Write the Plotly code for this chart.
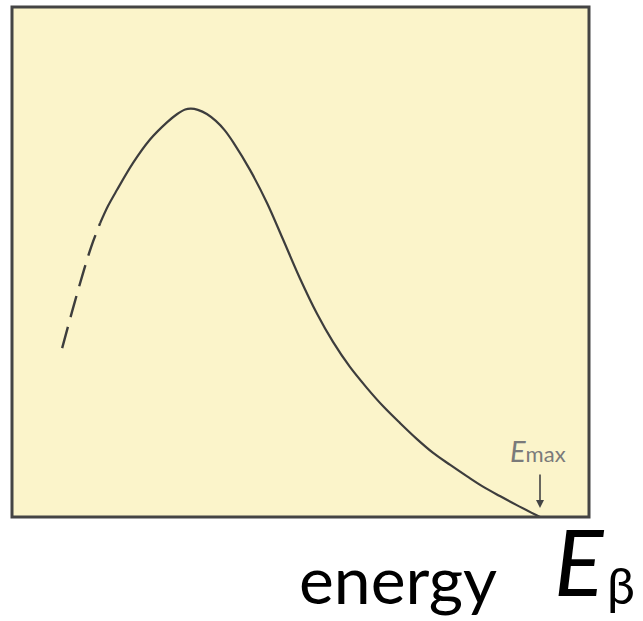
import plotly.graph_objects as go

# Beta-decay electron energy spectrum (energy in units of E_max, intensity normalised to peak)
energy_low = [0.095, 0.114, 0.133, 0.150, 0.167]
intensity_low = [0.412, 0.502, 0.588, 0.659, 0.717]

energy = [0.167, 0.182, 0.199, 0.229, 0.261, 0.294, 0.313, 0.328, 0.339, 0.352,
          0.369, 0.386, 0.403, 0.420, 0.451, 0.483, 0.513, 0.545, 0.578, 0.608,
          0.640, 0.672, 0.703, 0.735, 0.767, 0.797, 0.830, 0.862, 0.892, 0.924,
          0.956, 1.000]
intensity = [0.717, 0.759, 0.798, 0.863, 0.920, 0.963, 0.983, 0.994, 0.996, 0.993,
             0.983, 0.966, 0.943, 0.912, 0.846, 0.766, 0.678, 0.583, 0.495, 0.427,
             0.366, 0.315, 0.270, 0.229, 0.190, 0.157, 0.127, 0.099, 0.074, 0.051,
             0.029, 0.000]

e_max = 1.0

W, H = 643, 621
L, R, T, B = 12, 54, 7, 104
plot_w = W - L - R
plot_h = H - T - B
x_scale = 528.0   # pixels per unit energy
y_scale = 410.0   # pixels per unit intensity

line_color = "#3d3d3d"
fig = go.Figure()
fig.add_trace(go.Scatter(x=energy_low, y=intensity_low, mode="lines",
                         line=dict(color=line_color, width=2.4, dash="22px,10px", shape="spline"),
                         hoverinfo="skip"))
fig.add_trace(go.Scatter(x=energy, y=intensity, mode="lines",
                         line=dict(color=line_color, width=2.2, shape="spline", smoothing=1.0),
                         hoverinfo="skip"))

# frame
fig.add_shape(type="rect", xref="paper", yref="paper", x0=0, y0=0, x1=1, y1=1,
              line=dict(color="#444444", width=3), fillcolor="rgba(0,0,0,0)", layer="above")

# E_max marker
fig.add_annotation(x=e_max, y=0.022, xref="x", yref="y", text="", showarrow=True,
                   ax=0, ay=-35, arrowhead=2, arrowsize=1, arrowwidth=1.6,
                   arrowcolor="#444444")
fig.add_annotation(x=e_max - 0.004, y=0.162, xref="x", yref="y",
                   text="<i>E</i><span style='font-size:22px'>max</span>",
                   showarrow=False, xanchor="center", yanchor="middle",
                   font=dict(family="Lato, sans-serif", size=29, color="#7a7a7a"))

# axis title: "energy  Eβ"
def px_x(p):
    return (p - L) / plot_w

def px_y(p):
    return -(p - (T + plot_h)) / plot_h

fig.add_annotation(x=px_x(297), y=px_y(578), xref="paper", yref="paper",
                   text="energy", showarrow=False, xanchor="left", yanchor="middle",
                   font=dict(family="Lato, sans-serif", size=66, color="#000000"))
fig.add_annotation(x=px_x(553), y=px_y(560), xref="paper", yref="paper",
                   text="<i>E</i>", showarrow=False, xanchor="left", yanchor="middle",
                   borderpad=0, font=dict(family="Lato, sans-serif", size=92, color="#000000"))
fig.add_annotation(x=px_x(606), y=px_y(585), xref="paper", yref="paper",
                   text="β", showarrow=False, xanchor="left", yanchor="middle",
                   borderpad=0, font=dict(family="Lato, sans-serif", size=50, color="#000000"))

fig.update_layout(
    width=W, height=H,
    margin=dict(l=L, r=R, t=T, b=B, pad=0),
    paper_bgcolor="white",
    plot_bgcolor="#FBF4CA",
    showlegend=False,
    xaxis=dict(range=[0, plot_w / x_scale], visible=False, fixedrange=True),
    yaxis=dict(range=[0, plot_h / y_scale], visible=False, fixedrange=True),
)

fig.write_html("out.html")
